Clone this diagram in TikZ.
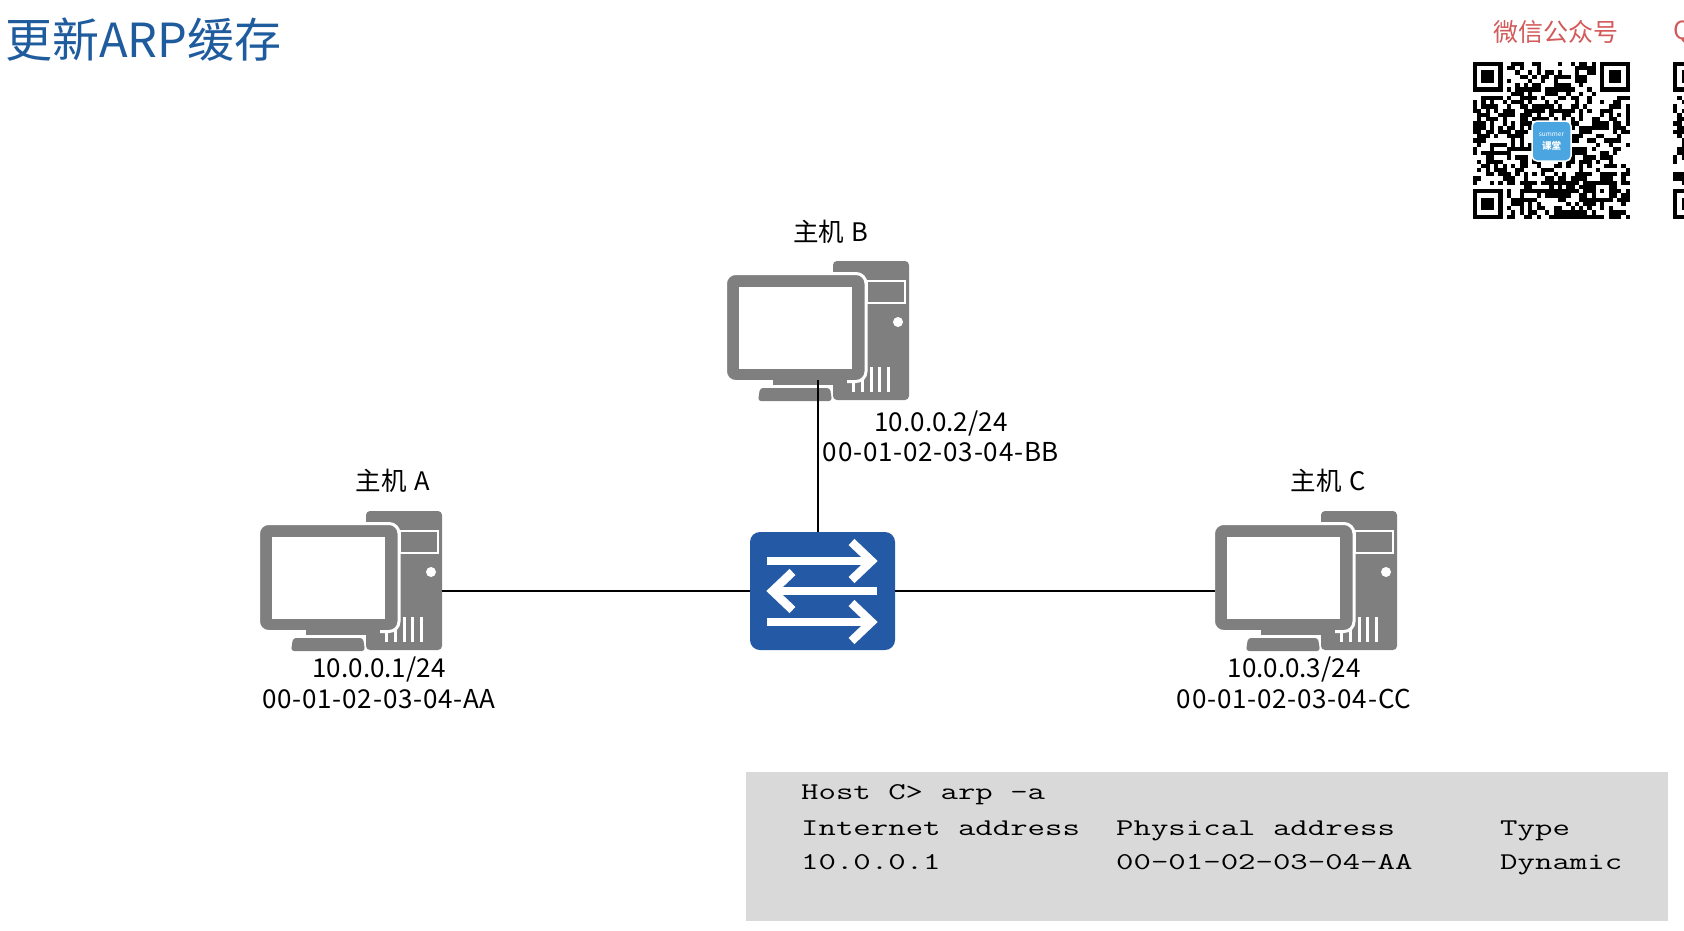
\documentclass[tikz,border=0pt]{standalone}
\usepackage{fontspec}
\setmainfont{Noto Sans CJK SC}
\newfontfamily\arpfont[FakeStretch=1.41]{Latin Modern Mono}
\newfontfamily\macfont[LetterSpace=3]{Noto Sans CJK SC}
\definecolor{hostgray}{HTML}{7F7F7F}
\definecolor{switchblue}{HTML}{2459A6}
\definecolor{titleblue}{HTML}{1F5C9E}
\definecolor{boxgray}{HTML}{D9D9D9}
\definecolor{wechatred}{HTML}{D25A5A}
\definecolor{logoblue}{HTML}{4AA5E0}
\tikzset{
    hostlabel/.style={inner sep=0pt,font=\fontsize{25.5}{25.5}\selectfont},
    addrlabel/.style={inner sep=0pt,font=\fontsize{26}{26}\selectfont},
    maclabel/.style={inner sep=0pt,font=\macfont\fontsize{26}{26}\selectfont},
    arpline/.style={inner sep=0pt,anchor=base west,font=\arpfont\fontsize{24}{24}\selectfont},
    switcharrow/.style={white,line width=8.5pt,miter limit=10},
    host/.pic={
        \fill[hostgray,rounded corners=4pt] (106,0) rectangle (182,139);
        \draw[white,line width=2pt] (140,20) rectangle (178,42);
        \fill[white] (171,61) circle (5);
        \foreach \ventx in {126,135,144,152,161}
            \draw[white,line width=3pt] (\ventx,106) -- (\ventx,131);
        \draw[white,line width=3pt,fill=hostgray,rounded corners=10pt] (-1.5,12.5) rectangle (139,120.5);
        \fill[white] (12,26) rectangle (125,108);
        \fill[hostgray] (46,119) rectangle (120,124);
        \fill[hostgray,rounded corners=3pt] (33,127) -- (103,127) -- (105,140) -- (31,140) -- cycle;
        \coordinate (-east) at (182,80);
        \coordinate (-west) at (0,80);
        \coordinate (-south) at (91,119);
    },
    qrcode/.pic={
        \def\qrm{4.24}
        \foreach \qrx in {0,...,36}
            \foreach \qry in {0,...,36}{
                \pgfmathrandominteger{\qrbit}{0}{1}
                \ifnum\qrbit=1
                    \fill[black] ({\qrx*\qrm},{\qry*\qrm}) rectangle ++(\qrm,\qrm);
                \fi
            }
        \foreach \fx/\fy in {0/0,29/0,0/29}{
            \fill[white] ({\fx*\qrm},{\fy*\qrm}) rectangle ++({8*\qrm},{8*\qrm});
        }
        \foreach \fx/\fy in {0/0,30/0,0/30}{
            \fill[black] ({\fx*\qrm},{\fy*\qrm}) rectangle ++({7*\qrm},{7*\qrm});
            \fill[white] ({(\fx+1)*\qrm},{(\fy+1)*\qrm}) rectangle ++({5*\qrm},{5*\qrm});
            \fill[black] ({(\fx+2)*\qrm},{(\fy+2)*\qrm}) rectangle ++({3*\qrm},{3*\qrm});
        }
        \fill[black] ({28*\qrm},{28*\qrm}) rectangle ++({5*\qrm},{5*\qrm});
        \fill[white] ({29*\qrm},{29*\qrm}) rectangle ++({3*\qrm},{3*\qrm});
        \fill[black] ({30*\qrm},{30*\qrm}) rectangle ++(\qrm,\qrm);
    }
}
\begin{document}
\begin{tikzpicture}[x=1pt,y=-1pt]
    \useasboundingbox (0,0) rectangle (1684,930);
    \begin{scope}
        \clip (0,0) rectangle (1684,930);
        \pgfmathsetseed{4711}
        \pic at (1473,62) {qrcode};
        \pic at (1673,62) {qrcode};
        \node[draw=white,line width=1.5pt,fill=logoblue,rounded corners=5pt,minimum width=39pt,minimum height=40pt,inner sep=0pt] (logo) at (1551.5,141) {};
        \node[white,inner sep=0pt,font=\fontsize{6.5}{6.5}\selectfont] (logotop) at (1551.5,135) {summer};
        \node[white,inner sep=0pt,font=\bfseries\fontsize{9.5}{9.5}\selectfont] (logobottom) at (1551.5,146) {课堂};
        \node[wechatred,inner sep=0pt,anchor=west,font=\fontsize{25}{25}\selectfont] (wechat) at (1493,32) {微信公众号};
        \node[wechatred,inner sep=0pt,anchor=west,font=\fontsize{25}{25}\selectfont] (qqgroup) at (1673,32) {Q};
    \end{scope}

    \node[titleblue,inner sep=0pt,anchor=west,font=\fontsize{47}{47}\selectfont] (title) at (5,40) {更新ARP缓存};

    \pic (hosta) at (260,511) {host};
    \pic (hostb) at (727,261) {host};
    \pic (hostc) at (1215,511) {host};

    \node[fill=switchblue,rounded corners=10pt,minimum width=145pt,minimum height=118pt,inner sep=0pt] (switch) at (822.5,591) {};
    \begin{scope}[shift={(switch.center)}]
        \draw[switcharrow] (-55.5,-30) -- (49,-30);
        \draw[switcharrow] (29,-49) -- (49,-30) -- (29,-11);
        \draw[switcharrow] (54.5,0) -- (-50,0);
        \draw[switcharrow] (-30,-19) -- (-50,0) -- (-30,19);
        \draw[switcharrow] (-55.5,31) -- (49,31);
        \draw[switcharrow] (29,12) -- (49,31) -- (29,50);
    \end{scope}

    \draw[line width=1.5pt] (hosta-east) -- (switch.west);
    \draw[line width=1.5pt] (hostb-south) -- (hostb-south |- switch.north);
    \draw[line width=1.5pt] (switch.east) -- (hostc-west);

    \node[hostlabel] (labela) at (393,481) {主机\hspace{2pt} A};
    \node[addrlabel] (ipa) at (379,669) {10.0.0.1/24};
    \node[maclabel] (maca) at (379,699) {00-01-02-03-04-AA};
    \node[hostlabel] (labelb) at (831,232) {主机\hspace{2pt} B};
    \node[addrlabel] (ipb) at (941,423) {10.0.0.2/24};
    \node[maclabel] (macb) at (941,452) {00-01-02-03-04-BB};
    \node[hostlabel] (labelc) at (1328,481) {主机\hspace{2pt} C};
    \node[addrlabel] (ipc) at (1294,669) {10.0.0.3/24};
    \node[maclabel] (macc) at (1294,699) {00-01-02-03-04-CC};

    \fill[boxgray] (745.5,772) rectangle (1668,921);
    \node[arpline] (prompt) at (801,799.5) {Host C> arp -a};
    \node[arpline] (headip) at (801,835) {Internet address};
    \node[arpline] (headmac) at (1116,835) {Physical address};
    \node[arpline] (headtype) at (1500,835) {Type};
    \node[arpline] (rowip) at (801,869) {10.0.0.1};
    \node[arpline] (rowmac) at (1116,869) {00-01-02-03-04-AA};
    \node[arpline] (rowtype) at (1500,869) {Dynamic};
\end{tikzpicture}
\end{document}
